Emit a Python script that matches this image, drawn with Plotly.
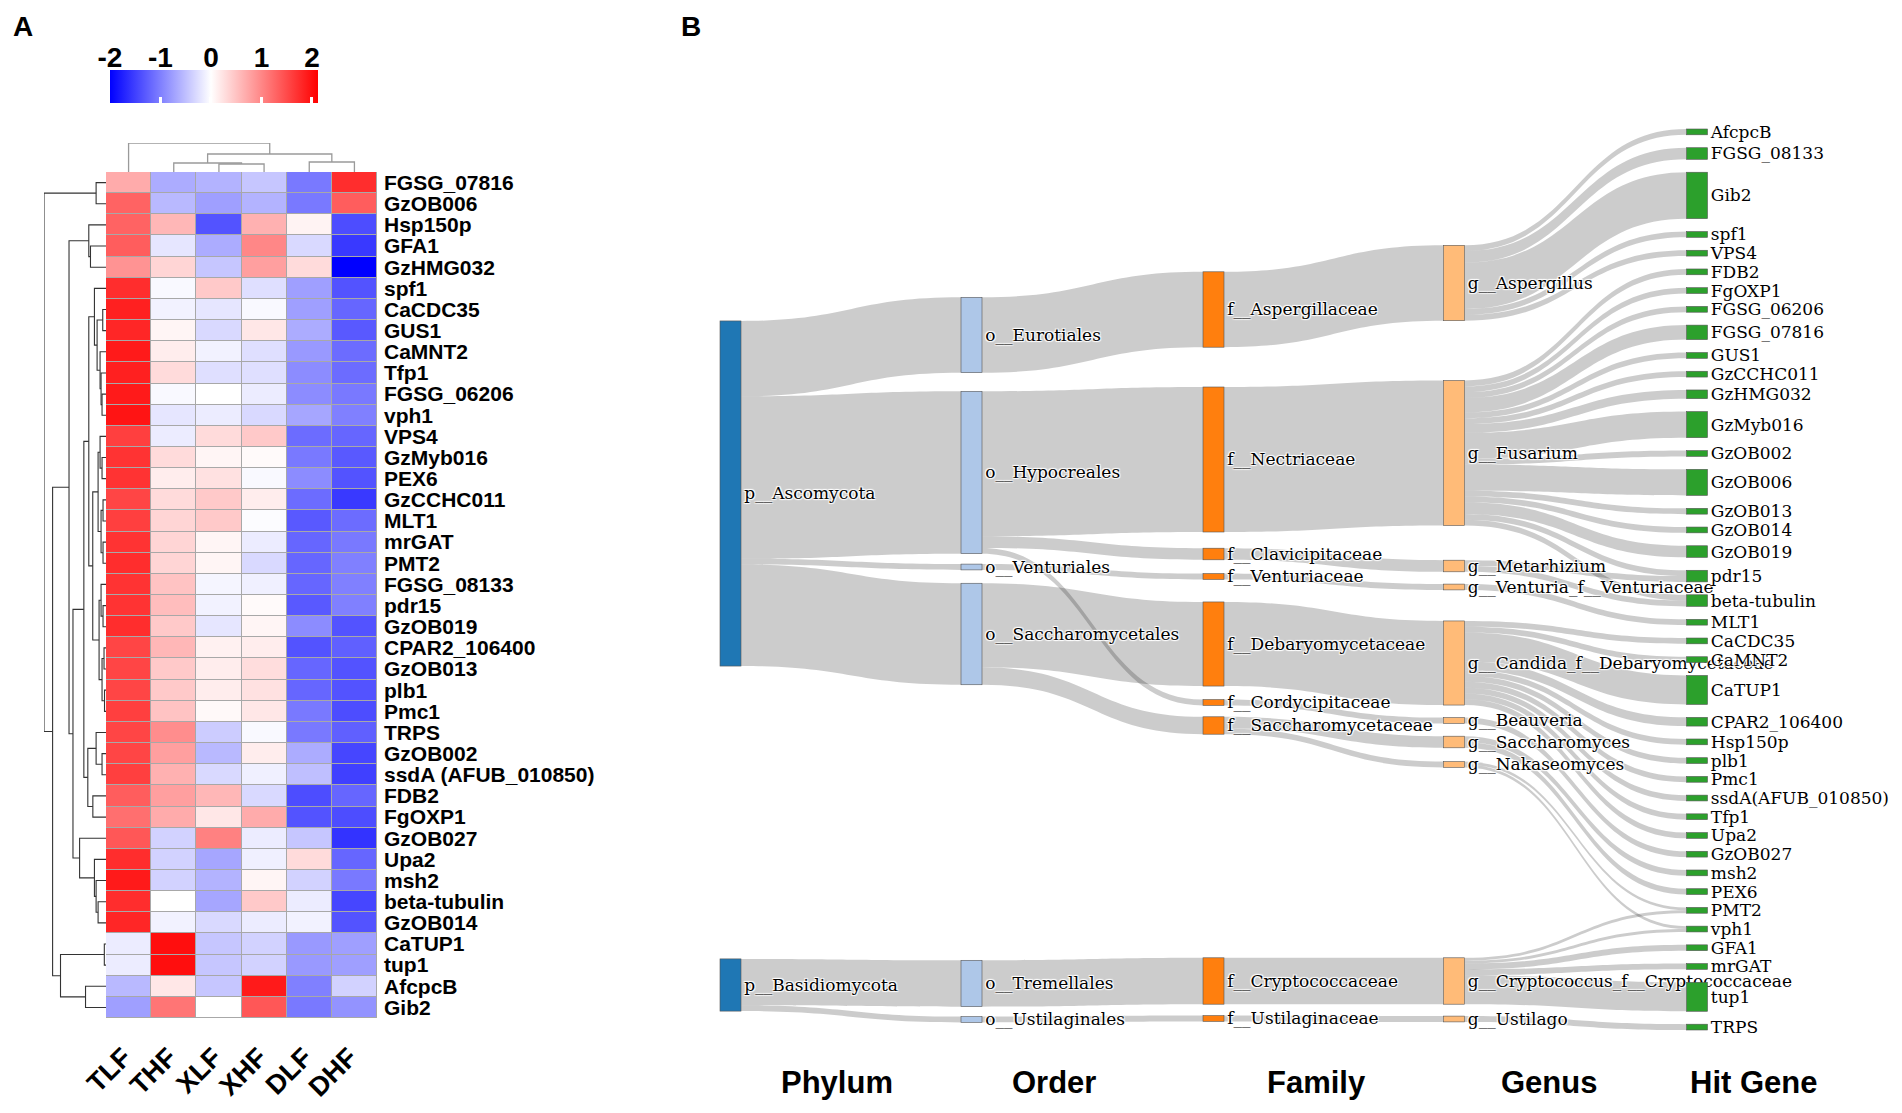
import plotly.graph_objects as go

W, H = 1902, 1113

def fx(p):
    return p / W

def fy(p):
    return 1 - p / H

# ---------------- Panel A data ----------------
col_labels = ["TLF", "THF", "XLF", "XHF", "DLF", "DHF"]
row_labels = ["FGSG_07816", "GzOB006", "Hsp150p", "GFA1", "GzHMG032", "spf1", "CaCDC35",
              "GUS1", "CaMNT2", "Tfp1", "FGSG_06206", "vph1", "VPS4", "GzMyb016", "PEX6",
              "GzCCHC011", "MLT1", "mrGAT", "PMT2", "FGSG_08133", "pdr15", "GzOB019",
              "CPAR2_106400", "GzOB013", "plb1", "Pmc1", "TRPS", "GzOB002",
              "ssdA (AFUB_010850)", "FDB2", "FgOXP1", "GzOB027", "Upa2", "msh2",
              "beta-tubulin", "GzOB014", "CaTUP1", "tup1", "AfcpcB", "Gib2"]
z_values = [
    [0.70, -0.65, -0.60, -0.45, -1.05, 1.75],
    [1.30, -0.55, -0.75, -0.60, -1.05, 1.35],
    [1.30, 0.60, -1.35, 0.65, 0.10, -1.40],
    [1.35, -0.20, -0.65, 1.00, -0.30, -1.55],
    [0.90, 0.35, -0.45, 0.80, 0.30, -2.00],
    [1.75, -0.05, 0.45, -0.25, -0.75, -1.35],
    [1.85, -0.10, -0.20, -0.05, -0.75, -1.20],
    [1.80, 0.08, -0.30, 0.20, -0.65, -1.30],
    [1.90, 0.15, -0.10, -0.25, -0.80, -1.15],
    [1.85, 0.30, -0.25, -0.25, -0.90, -1.15],
    [1.90, -0.05, 0.00, -0.15, -0.90, -1.05],
    [1.95, -0.20, -0.15, -0.30, -0.70, -1.00],
    [1.60, -0.15, 0.30, 0.45, -1.15, -1.20],
    [1.70, 0.30, 0.08, 0.04, -1.05, -1.30],
    [1.70, 0.15, 0.25, -0.05, -0.90, -1.35],
    [1.55, 0.30, 0.45, 0.15, -1.15, -1.55],
    [1.60, 0.35, 0.45, -0.02, -1.30, -1.15],
    [1.70, 0.35, 0.08, -0.15, -1.20, -1.05],
    [1.75, 0.35, 0.08, -0.30, -1.20, -1.00],
    [1.70, 0.50, -0.08, -0.12, -1.20, -1.00],
    [1.70, 0.55, -0.10, 0.04, -1.30, -1.00],
    [1.75, 0.45, -0.20, 0.08, -0.90, -1.35],
    [1.55, 0.60, 0.12, 0.15, -1.35, -1.25],
    [1.55, 0.45, 0.15, 0.28, -1.20, -1.35],
    [1.55, 0.45, 0.15, 0.25, -1.20, -1.35],
    [1.60, 0.50, 0.05, 0.20, -1.05, -1.40],
    [1.55, 0.95, -0.40, -0.05, -1.05, -1.25],
    [1.55, 0.80, -0.55, 0.15, -0.65, -1.45],
    [1.60, 0.65, -0.30, -0.12, -0.50, -1.50],
    [1.35, 0.80, 0.60, -0.30, -1.40, -1.20],
    [1.20, 0.70, 0.20, 0.70, -1.35, -1.40],
    [1.40, -0.35, 1.05, -0.15, -0.45, -1.60],
    [1.75, -0.35, -0.70, -0.12, 0.30, -1.20],
    [1.90, -0.35, -0.60, 0.08, -0.35, -1.05],
    [1.75, 0.00, -0.70, 0.45, -0.15, -1.45],
    [1.80, -0.10, -0.30, -0.15, -0.10, -1.35],
    [-0.15, 2.00, -0.45, -0.35, -0.80, -0.75],
    [-0.15, 2.00, -0.45, -0.35, -0.80, -0.75],
    [-0.55, 0.20, -0.45, 1.90, -1.00, -0.35],
    [-0.75, 1.15, 0.00, 1.40, -1.05, -0.85],
]
colorbar_ticks = [-2, -1, 0, 1, 2]

# dendrograms: [height, left, right]; leaves are row/column indices
col_tree = [29, 0, [18, [9, 1, [8, 2, 3]], [10, 4, 5]]]
row_tree = [62.7,
            [10, 0, 1],
            [54,
             [37.4,
              [17.4, 2, [15.7, 3, 4]],
              [33.4,
               [22.4,
                [17.4,
                 [11.7, 5, [9, [3.3, 6, 7], [6, 8, [5, 9, [4, 10, 11]]]]],
                 [13.4,
                  [8, [6, 12, [4, 13, 14]], [5, [3, 15, 16], [3, 17, 18]]],
                  [7, [5, 19, [3, 20, 21]], [4, [2, 22, 23], [1.5, 24, 25]]]]],
                [18.4, [10, 26, [4, 27, 28]], [13.3, 29, 30]]],
               [26.7, 31, [11.7, 32, [10, 33, [8, 34, 35]]]]]],
             [46, [1.7, 36, 37], [20.7, 38, 39]]]]

# ---------------- Panel B data ----------------
phyla = ["p__Ascomycota", "p__Basidiomycota"]
orders = ["o__Eurotiales", "o__Hypocreales", "o__Venturiales", "o__Saccharomycetales",
          "o__Tremellales", "o__Ustilaginales"]
order_parent = ["p__Ascomycota", "p__Ascomycota", "p__Ascomycota", "p__Ascomycota",
                "p__Basidiomycota", "p__Basidiomycota"]
families = ["f__Aspergillaceae", "f__Nectriaceae", "f__Clavicipitaceae", "f__Venturiaceae",
            "f__Debaryomycetaceae", "f__Cordycipitaceae", "f__Saccharomycetaceae",
            "f__Cryptococcaceae", "f__Ustilaginaceae"]
family_parent = ["o__Eurotiales", "o__Hypocreales", "o__Hypocreales", "o__Venturiales",
                 "o__Saccharomycetales", "o__Hypocreales", "o__Saccharomycetales",
                 "o__Tremellales", "o__Ustilaginales"]
genera = ["g__Aspergillus", "g__Fusarium", "g__Metarhizium", "g__Venturia_f__Venturiaceae",
          "g__Candida_f__Debaryomycetaceae", "g__Beauveria", "g__Saccharomyces",
          "g__Nakaseomyces", "g__Cryptococcus_f__Cryptococcaceae", "g__Ustilago"]
genus_parent = ["f__Aspergillaceae", "f__Nectriaceae", "f__Clavicipitaceae", "f__Venturiaceae",
                "f__Debaryomycetaceae", "f__Cordycipitaceae", "f__Saccharomycetaceae",
                "f__Saccharomycetaceae", "f__Cryptococcaceae", "f__Ustilaginaceae"]
genes = ["AfcpcB", "FGSG_08133", "Gib2", "spf1", "VPS4", "FDB2", "FgOXP1", "FGSG_06206",
         "FGSG_07816", "GUS1", "GzCCHC011", "GzHMG032", "GzMyb016", "GzOB002", "GzOB006",
         "GzOB013", "GzOB014", "GzOB019", "pdr15", "beta-tubulin", "MLT1", "CaCDC35",
         "CaMNT2", "CaTUP1", "CPAR2_106400", "Hsp150p", "plb1", "Pmc1", "ssdA(AFUB_010850)",
         "Tfp1", "Upa2", "GzOB027", "msh2", "PEX6", "PMT2", "vph1", "GFA1", "mrGAT", "tup1",
         "TRPS"]
link_genus = (["g__Aspergillus"] * 5 + ["g__Fusarium"] * 15 + ["g__Metarhizium"] * 2 +
              ["g__Venturia_f__Venturiaceae"] + ["g__Candida_f__Debaryomycetaceae"] * 10 +
              ["g__Beauveria"] + ["g__Saccharomyces"] * 2 + ["g__Nakaseomyces"] * 2 +
              ["g__Cryptococcus_f__Cryptococcaceae"] * 5 + ["g__Ustilago"])
link_gene = ["AfcpcB", "FGSG_08133", "Gib2", "spf1", "VPS4",
             "FDB2", "FgOXP1", "FGSG_06206", "FGSG_07816", "GUS1", "GzCCHC011", "GzHMG032",
             "GzMyb016", "GzOB002", "GzOB006", "GzOB013", "GzOB014", "GzOB019", "pdr15",
             "beta-tubulin",
             "pdr15", "beta-tubulin",
             "MLT1",
             "CaCDC35", "CaMNT2", "CaTUP1", "CPAR2_106400", "Hsp150p", "plb1", "Pmc1",
             "ssdA(AFUB_010850)", "Tfp1", "Upa2",
             "GzOB027",
             "msh2", "PEX6",
             "PMT2", "vph1",
             "PMT2", "vph1", "GFA1", "mrGAT", "tup1",
             "TRPS"]
link_value = [1, 2, 8, 1, 1,
              1, 1, 1, 2.5, 1, 1, 1.5, 4.5, 1, 4.5, 1, 1, 2, 1, 1,
              1, 1,
              1,
              1, 1, 5, 1.5, 1, 1, 1, 1, 1, 1,
              1,
              1, 1,
              0.5, 0.5,
              0.5, 0.5, 1, 1, 5,
              1]
level_titles = ["Phylum", "Order", "Family", "Genus", "Hit Gene"]

# ---------------- layout / style settings (not data) ----------------
level_colors = ["#1f77b4", "#aec7e8", "#ff7f0e", "#ffbb78", "#2ca02c"]
SK_LEFT, SK_RIGHT, SK_TOP, SK_BOTTOM = 700, 1890, 100, 1060  # sankey domain (px)
column_center_px = [730.5, 971.5, 1213.5, 1454, 1697]
KY = 5.8                    # px per unit of value
GENE_TOP, GENE_BOTTOM = 129, 1030
# vertical centres (px) of the nodes in the first four columns, in list order
upper_centers_px = [
    [493.5, 985],
    [335, 472.5, 567, 634, 983.5, 1019.5],
    [309.5, 459.5, 554, 576.5, 644, 702.5, 725.5, 981, 1018.5],
    [283, 453, 566, 587, 663, 720.5, 742, 764.5, 981, 1019],
]

# ---------------- build figure ----------------
fig = go.Figure()
BOLD = dict(family="Liberation Sans, Arial, sans-serif", weight="bold", color="black")

zmin, zmax = -2.0, 2.12
mid = (0 - zmin) / (zmax - zmin)
fig.add_trace(go.Heatmap(
    z=z_values, x=list(range(len(col_labels))), y=list(range(len(row_labels))),
    colorscale=[[0, "#0000ff"], [mid, "#ffffff"], [1, "#ff0000"]],
    zmin=zmin, zmax=zmax, xgap=1, ygap=1, hoverinfo="skip",
    colorbar=dict(orientation="h", x=fx(110), xanchor="left", y=fy(109), yanchor="bottom",
                  ypad=0, xpad=0, len=208, lenmode="pixels", thickness=33,
                  tickvals=colorbar_ticks, showticklabels=False, ticks="inside",
                  tickcolor="white", ticklen=6, tickwidth=3, outlinewidth=0),
))
# tick labels of the colour key (drawn on a helper axis above the bar)
fig.add_trace(go.Scatter(x=colorbar_ticks, y=[0] * len(colorbar_ticks), xaxis="x3",
                         yaxis="y3", mode="markers", marker=dict(opacity=0),
                         hoverinfo="skip", showlegend=False))


def tree_lines(node, xs, ys):
    if isinstance(node, int):
        return float(node), 0.0
    h, left, right = node
    pl, hl = tree_lines(left, xs, ys)
    pr, hr = tree_lines(right, xs, ys)
    xs.extend([pl, pl, pr, pr, None])
    ys.extend([hl, h, h, hr, None])
    return (pl + pr) / 2, h


cpos, cheight = [], []
tree_lines(col_tree, cpos, cheight)
rpos, rheight = [], []
tree_lines(row_tree, rpos, rheight)

fig.add_trace(go.Scatter(x=cpos, y=cheight, mode="lines", xaxis="x", yaxis="y2",
                         line=dict(color="#9a9a9a", width=1.3), hoverinfo="skip",
                         showlegend=False))
fig.add_trace(go.Scatter(x=rheight, y=rpos, mode="lines", xaxis="x2", yaxis="y",
                         line=dict(color="#333333", width=1.1), hoverinfo="skip",
                         showlegend=False))

# ---- sankey ----
levels = [phyla, orders, families, genera, genes]
node_labels = [n for lv in levels for n in lv]
idx = {n: i for i, n in enumerate(node_labels)}

agg = {}
genus_to_family = dict(zip(genera, genus_parent))
family_to_order = dict(zip(families, family_parent))
order_to_phylum = dict(zip(orders, order_parent))
gene_total = {g: 0.0 for g in genes}
for g, gene, v in zip(link_genus, link_gene, link_value):
    f = genus_to_family[g]
    o = family_to_order[f]
    p = order_to_phylum[o]
    for s, t in [(p, o), (o, f), (f, g), (g, gene)]:
        agg[(s, t)] = agg.get((s, t), 0) + v
    gene_total[gene] += v

# gene column stacked top to bottom in list order
total = sum(gene_total.values())
gap = (GENE_BOTTOM - GENE_TOP - total * KY) / (len(genes) - 1)
gene_centers = []
ycur = GENE_TOP
for g in genes:
    h = gene_total[g] * KY
    gene_centers.append(ycur + h / 2)
    ycur += h + gap

sk_w = SK_RIGHT - SK_LEFT
sk_h = SK_BOTTOM - SK_TOP
node_x, node_y = [], []
for li, lv in enumerate(levels):
    centers = upper_centers_px[li] if li < 4 else gene_centers
    for c in centers:
        node_x.append((column_center_px[li] - SK_LEFT) / sk_w)
        node_y.append((c - SK_TOP) / sk_h)

# invisible sink column (placed off the page) so gene labels sit right of their nodes
node_labels_full = node_labels + [""]
sink = len(node_labels)
node_x.append(2.0)
node_y.append(0.5)
node_colors = [level_colors[li] for li, lv in enumerate(levels) for _ in lv] + ["rgba(0,0,0,0)"]

src = [idx[s] for (s, t) in agg]
tgt = [idx[t] for (s, t) in agg]
val = list(agg.values())
lcol = ["rgba(0,0,0,0.2)"] * len(val)
for g in genes:
    src.append(idx[g])
    tgt.append(sink)
    val.append(gene_total[g])
    lcol.append("rgba(0,0,0,0)")

# pad chosen so that the library's value scale equals KY
pad = (sk_h - total * KY) / (len(genes) - 1)

fig.add_trace(go.Sankey(
    domain=dict(x=[fx(SK_LEFT), fx(SK_RIGHT)], y=[fy(SK_BOTTOM), fy(SK_TOP)]),
    arrangement="fixed",
    node=dict(label=node_labels_full, color=node_colors, pad=pad, thickness=21,
              x=node_x, y=node_y, line=dict(color="#555555", width=0.6)),
    link=dict(source=src, target=tgt, value=val, color=lcol),
    textfont=dict(family="DejaVu Serif", size=17, color="black"),
    hoverinfo="skip",
))

# gray grid behind heatmap (cell borders)
fig.add_shape(type="rect", xref="x domain", yref="y domain", x0=0, x1=1, y0=0, y1=1,
              fillcolor="#a8a8a8", line=dict(width=0), layer="below")

annotations = [
    dict(text="A", x=fx(23), y=fy(27), font=dict(size=28, **BOLD)),
    dict(text="B", x=fx(691), y=fy(27), font=dict(size=28, **BOLD)),
]
title_x = [837, 1054, 1316, 1549, 1753]
for t, xp in zip(level_titles, title_x):
    annotations.append(dict(text=t, x=fx(xp), y=fy(1082), font=dict(size=31, **BOLD)))
for a in annotations:
    a.update(xref="paper", yref="paper", showarrow=False, xanchor="center", yanchor="middle")

fig.update_layout(
    width=W, height=H, margin=dict(l=0, r=0, t=0, b=0, autoexpand=False),
    paper_bgcolor="white", plot_bgcolor="white", showlegend=False,
    annotations=annotations,
    xaxis=dict(domain=[fx(106), fx(377)], range=[-0.5, 5.5], anchor="y",
               tickvals=list(range(len(col_labels))), ticktext=col_labels, tickangle=-45,
               ticks="", showgrid=False, zeroline=False, showline=False,
               ticklabelstandoff=17, ticklabelshift=-5, tickfont=dict(size=27, **BOLD)),
    yaxis=dict(domain=[fy(1018), fy(172)], range=[len(row_labels) - 0.5, -0.5], anchor="x",
               side="right", tickvals=list(range(len(row_labels))), ticktext=row_labels,
               ticks="", showgrid=False, zeroline=False, showline=False,
               ticklabelstandoff=6, tickfont=dict(size=21, **BOLD)),
    xaxis2=dict(domain=[fx(44), fx(106)], range=[62.7, 0], anchor="y", visible=False),
    yaxis2=dict(domain=[fy(172), fy(143)], range=[0, 29], anchor="x", visible=False),
    xaxis3=dict(domain=[fx(110), fx(318)], range=[zmin, zmax], anchor="y3", side="top",
                tickvals=colorbar_ticks, ticktext=[str(t) for t in colorbar_ticks],
                ticks="", showgrid=False, zeroline=False, showline=False,
                ticklabelstandoff=2, tickfont=dict(size=28, **BOLD)),
    yaxis3=dict(domain=[fy(109), fy(76)], range=[-1, 1], anchor="x3", visible=False),
)

fig.write_html("out.html", config={"displayModeBar": False},
               post_script="document.body.style.margin='0px';")
